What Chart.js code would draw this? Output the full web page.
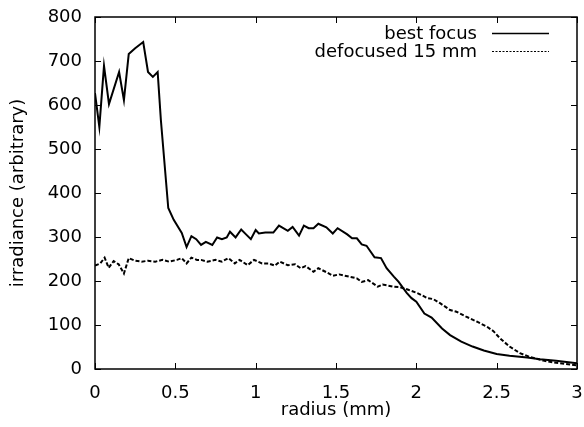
<!DOCTYPE html>
<html>
<head>
<meta charset="utf-8">
<script src="https://cdn.jsdelivr.net/npm/chart.js@4/dist/chart.umd.min.js"></script>
<style>
  html, body { margin: 0; padding: 0; background: #fff; }
  #wrap { width: 584px; height: 427px; position: relative; }
</style>
</head>
<body>
<div id="wrap"><canvas id="c" width="584" height="427"></canvas></div>
<script>
// ---- data ----
const radiusBest = [0, 0.027, 0.056, 0.087, 0.15, 0.18, 0.21, 0.25, 0.30, 0.33, 0.36, 0.39, 0.41, 0.456, 0.49, 0.54, 0.57, 0.60, 0.63, 0.66, 0.69, 0.73, 0.76, 0.79, 0.82, 0.84, 0.875, 0.91, 0.94, 0.97, 1.0, 1.02, 1.06, 1.11, 1.145, 1.20, 1.23, 1.27, 1.30, 1.33, 1.36, 1.39, 1.44, 1.48, 1.51, 1.57, 1.60, 1.63, 1.66, 1.69, 1.74, 1.78, 1.815, 1.86, 1.89, 1.94, 1.97, 2.00, 2.05, 2.095, 2.16, 2.21, 2.28, 2.35, 2.42, 2.50, 2.58, 2.69, 2.77, 2.87, 3.0];
const irradianceBest = [627, 550, 689, 602, 675, 611, 716, 729, 743, 675, 664, 675, 566, 366, 339, 309, 277, 302, 295, 282, 289, 282, 299, 295, 299, 312, 299, 317, 306, 295, 316, 308, 310, 310, 326, 314, 323, 303, 326, 320, 320, 330, 322, 308, 320, 306, 297, 297, 283, 280, 254, 252, 229, 210, 198, 173, 161, 153, 126, 117, 92, 77, 62, 51, 42, 34, 30, 26, 22, 19, 13];

const radiusDefocus = [0, 0.033, 0.06, 0.085, 0.116, 0.147, 0.18, 0.21, 0.25, 0.29, 0.33, 0.375, 0.42, 0.46, 0.51, 0.54, 0.57, 0.60, 0.635, 0.66, 0.70, 0.75, 0.79, 0.83, 0.87, 0.90, 0.95, 0.99, 1.04, 1.08, 1.12, 1.15, 1.20, 1.245, 1.28, 1.31, 1.36, 1.39, 1.44, 1.48, 1.52, 1.58, 1.63, 1.66, 1.70, 1.76, 1.79, 1.86, 1.90, 1.95, 2.01, 2.07, 2.105, 2.15, 2.21, 2.25, 2.31, 2.375, 2.44, 2.48, 2.52, 2.58, 2.645, 2.71, 2.79, 2.87, 3.0];
const irradianceDefocus = [235, 240, 253, 230, 245, 238, 217, 252, 246, 244, 246, 244, 248, 244, 248, 252, 240, 253, 248, 248, 244, 248, 244, 252, 240, 248, 236, 248, 240, 240, 235, 244, 236, 238, 229, 234, 221, 229, 220, 212, 215, 210, 206, 198, 202, 187, 192, 187, 186, 180, 172, 161, 159, 149, 134, 130, 119, 108, 96, 86, 70, 51, 36, 27, 19, 14, 8];

const seriesLabels = ["best focus", "defocused 15 mm"];
const xTitle = "radius (mm)";
const yTitle = "irradiance (arbitrary)";

const FONT = "'DejaVu Sans', sans-serif";
const FSIZE = 18;

function pts(xs, ys) { return xs.map((x, i) => ({ x: x, y: ys[i] })); }

// gnuplot-style frame with inward ticks on all four sides
const framePlugin = {
  id: 'frame',
  afterDatasetsDraw(chart) {
    const { ctx, chartArea: a, scales } = chart;
    const L = 6;
    ctx.save();
    ctx.strokeStyle = '#000';
    ctx.lineWidth = 1.5;
    ctx.strokeRect(a.left, a.top, a.right - a.left, a.bottom - a.top);
    ctx.lineWidth = 1;
    ctx.beginPath();
    scales.x.ticks.forEach(t => {
      const px = Math.round(scales.x.getPixelForValue(t.value)) + 0.5;
      ctx.moveTo(px, a.bottom); ctx.lineTo(px, a.bottom - L);
      ctx.moveTo(px, a.top); ctx.lineTo(px, a.top + L);
    });
    scales.y.ticks.forEach(t => {
      const py = Math.round(scales.y.getPixelForValue(t.value)) + 0.5;
      ctx.moveTo(a.left, py); ctx.lineTo(a.left + L, py);
      ctx.moveTo(a.right, py); ctx.lineTo(a.right - L, py);
    });
    ctx.stroke();

    // legend: text right-aligned, sample line to the right
    const textRight = a.right - 100;
    const lineX0 = a.right - 85, lineX1 = a.right - 28;
    const rowY0 = a.top + 16, rowH = 18;
    ctx.font = FSIZE + "px " + FONT;
    ctx.fillStyle = '#000';
    ctx.textAlign = 'right';
    ctx.textBaseline = 'middle';
    chart.data.datasets.forEach((ds, i) => {
      const y = rowY0 + i * rowH;
      ctx.fillText(ds.label, textRight, y + 1);
      ctx.beginPath();
      ctx.strokeStyle = ds.borderColor;
      ctx.lineWidth = ds.legendWidth;
      ctx.setLineDash(ds.legendDash || []);
      ctx.moveTo(lineX0, y + 0.5); ctx.lineTo(lineX1, y + 0.5);
      ctx.stroke();
      ctx.setLineDash([]);
    });
    ctx.restore();
  }
};

new Chart(document.getElementById('c'), {
  type: 'line',
  data: {
    datasets: [
      {
        label: seriesLabels[0],
        data: pts(radiusBest, irradianceBest),
        borderColor: '#000',
        borderWidth: 2,
        legendWidth: 1.5,
        pointRadius: 0,
        tension: 0,
        fill: false
      },
      {
        label: seriesLabels[1],
        data: pts(radiusDefocus, irradianceDefocus),
        borderColor: '#000',
        borderWidth: 2,
        borderDash: [4, 2],
        legendWidth: 1,
        legendDash: [2, 1.5],
        pointRadius: 0,
        tension: 0,
        fill: false
      }
    ]
  },
  options: {
    responsive: false,
    animation: false,
    devicePixelRatio: 1,
    layout: { padding: { left: 0, right: 7, top: 17, bottom: 0 } },
    plugins: { legend: { display: false }, tooltip: { enabled: false } },
    scales: {
      x: {
        type: 'linear',
        min: 0, max: 3,
        grid: { display: false },
        border: { display: false },
        ticks: {
          stepSize: 0.5,
          color: '#000',
          font: { family: FONT, size: FSIZE },
          padding: 6,
          maxRotation: 0,
          callback: v => String(v)
        },
        title: {
          display: true, text: xTitle, color: '#000',
          font: { family: FONT, size: FSIZE },
          padding: { top: 0, bottom: 6 }
        },
        afterFit(s) { s.height = 58; s.paddingRight = 0; s.paddingLeft = 0; }
      },
      y: {
        min: 0, max: 800,
        grid: { display: false },
        border: { display: false },
        ticks: {
          stepSize: 100,
          color: '#000',
          font: { family: FONT, size: FSIZE },
          padding: 5
        },
        title: {
          display: true, text: yTitle, color: '#000',
          font: { family: FONT, size: FSIZE },
          padding: { top: 8, bottom: 0 }
        },
        afterFit(s) { s.width = 95; s.paddingTop = 0; s.paddingBottom = 0; }
      }
    }
  },
  plugins: [framePlugin]
});
</script>
</body>
</html>
